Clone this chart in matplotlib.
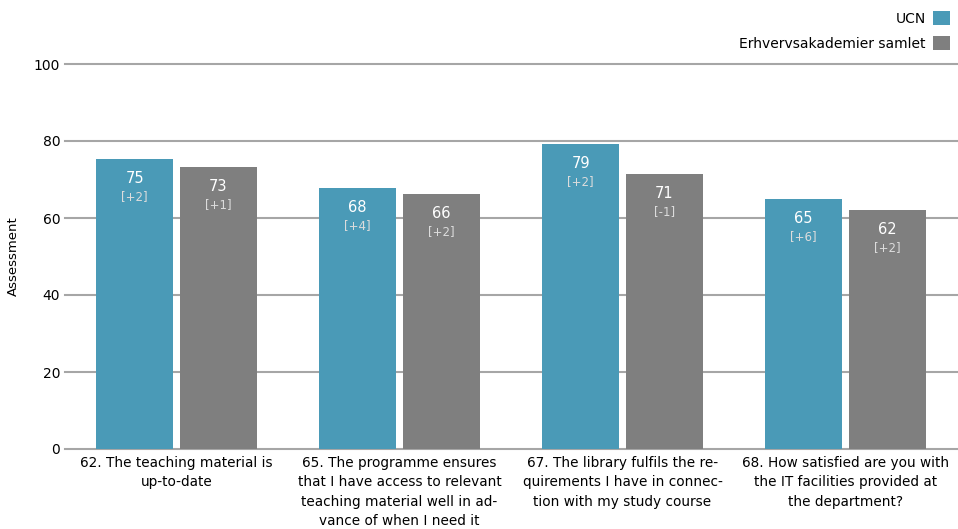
import numpy as np
import matplotlib
matplotlib.use("Agg")
import matplotlib.pyplot as plt
from matplotlib.patches import Patch

plt.rcParams['font.family'] = ['DejaVu Sans']

questions = [
    "62. The teaching material is\nup-to-date",
    "65. The programme ensures\nthat I have access to relevant\nteaching material well in ad-\nvance of when I need it",
    "67. The library fulfils the re-\nquirements I have in connec-\ntion with my study course",
    "68. How satisfied are you with\nthe IT facilities provided at\nthe department?",
]
ucn = [75.3, 67.8, 79.2, 64.9]
ucn_diff = ["+2", "+4", "+2", "+6"]
samlet = [73.2, 66.2, 71.4, 62.1]
samlet_diff = ["+1", "+2", "-1", "+2"]
series_names = ["UCN", "Erhvervsakademier samlet"]

teal = "#4a9ab7"
grey = "#7f7f7f"

fig = plt.figure(figsize=(9.58, 5.29), dpi=100)
ax = fig.add_axes([65/958, 1 - 449/529, 892/958, 385/529])

x = np.arange(len(questions))
w = 0.345
off = 0.188

for vals, diffs, dx, col in [(ucn, ucn_diff, -off, teal), (samlet, samlet_diff, off, grey)]:
    bars = ax.bar(x + dx, vals, width=w, color=col, zorder=3)
    for b, v, d in zip(bars, vals, diffs):
        cx = b.get_x() + b.get_width() / 2
        ax.annotate(f"{round(v)}", (cx, v), xytext=(0, -14), textcoords="offset points",
                    ha="center", va="center", color="white", fontsize=10.5, zorder=4)
        ax.annotate(f"[{d}]", (cx, v), xytext=(0, -27), textcoords="offset points",
                    ha="center", va="center", color="#dcdcdc", fontsize=8.5, zorder=4)

ax.set_xlim(-0.5, len(questions) - 0.5)
ax.set_ylim(0, 100)
ax.set_yticks([0, 20, 40, 60, 80, 100])
ax.yaxis.grid(True, color="#a6a6a6", linewidth=1.5, zorder=0)
for gl in ax.get_ygridlines():
    gl.set_clip_on(False)
ax.set_xticks(x)
ax.set_xticklabels(questions, linespacing=1.5)
ax.tick_params(axis="both", length=0, labelsize=10, colors="#000000")
ax.tick_params(axis="x", labelsize=9.8, pad=5)
for s in ax.spines.values():
    s.set_visible(False)
ax.set_ylabel("Assessment", fontsize=9.5, labelpad=10)

handles = [Patch(facecolor=teal), Patch(facecolor=grey)]
fig.legend(handles, series_names, loc="upper right", bbox_to_anchor=(0.997, 0.99),
           frameon=False, markerfirst=False, handlelength=1.2, handleheight=1.2,
           handletextpad=0.5, labelspacing=0.75, fontsize=10, borderaxespad=0)

fig.savefig("out.png", dpi=100)
